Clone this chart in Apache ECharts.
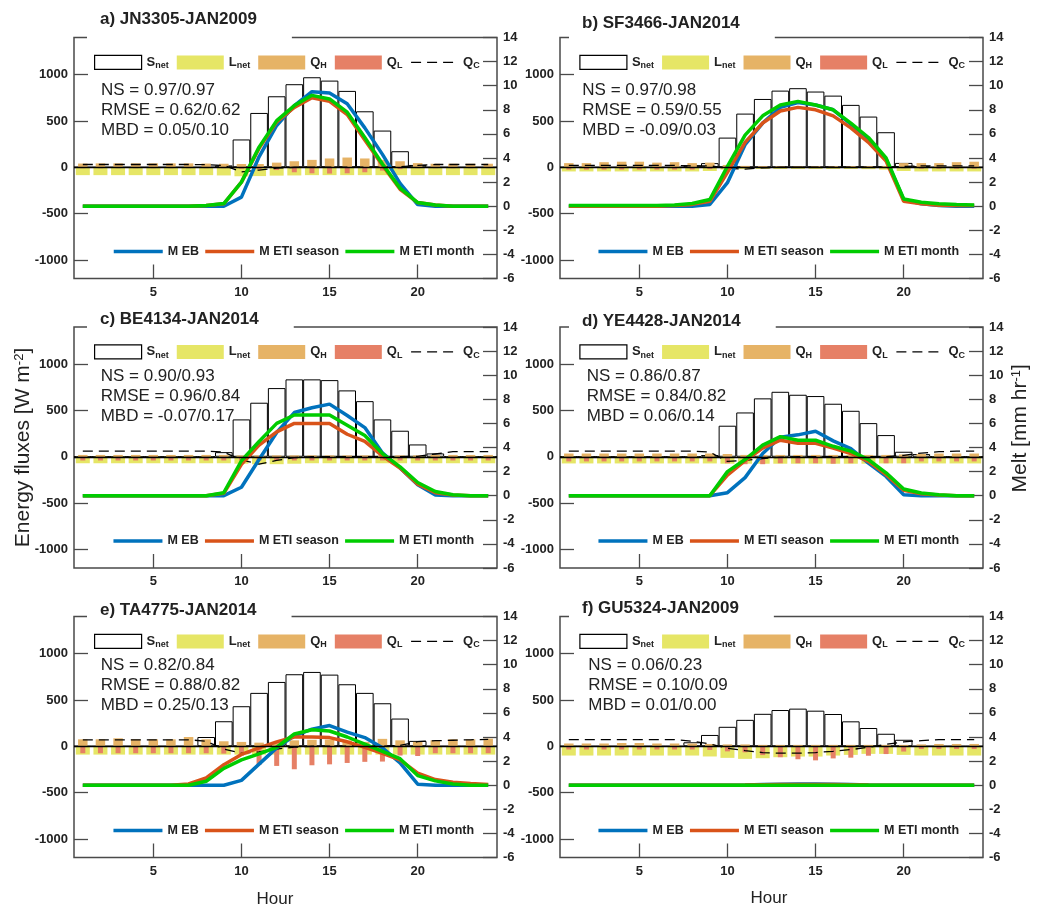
<!DOCTYPE html>
<html><head><meta charset="utf-8">
<script src="https://cdn.jsdelivr.net/npm/echarts@6/dist/echarts.min.js"></script>
<style>html,body{margin:0;padding:0;background:#fff}#c{width:1038px;height:909px}</style>
</head><body><div id="c"></div>
<script>
// ---------- DATA ----------
const hours = [1,2,3,4,5,6,7,8,9,10,11,12,13,14,15,16,17,18,19,20,21,22,23,24];
const xTicks = [5,10,15,20];
const leftTicks = [-1000,-500,0,500,1000];
const topLegendNames = ['S_net','L_net','Q_H','Q_L','Q_C'];
const meltNames = ['M EB','M ETI season','M ETI month'];

// a) JN3305-JAN2009
const titleA = 'a) JN3305-JAN2009';
const statsA = ['NS = 0.97/0.97','RMSE = 0.62/0.62','MBD = 0.05/0.10'];
const snetA = [0,0,0,0,0,0,0,0,20,300,586,766,896,971,935,824,604,396,173,25,0,0,0,0];
const lnetA = [-85,-85,-85,-85,-85,-85,-85,-85,-88,-97,-95,-90,-88,-85,-85,-85,-85,-85,-85,-85,-85,-85,-85,-85];
const qhA   = [40,42,42,42,42,42,42,40,38,35,35,50,65,80,95,105,95,80,65,45,38,38,38,38];
const qlA   = [-10,-10,-10,-10,-10,-10,-10,-10,-10,-15,-20,-30,-54,-65,-68,-65,-54,-36,-20,-10,-10,-10,-10,-10];
const qcA   = [30,30,30,30,30,30,30,28,20,-50,-30,-10,0,0,0,0,0,0,5,20,30,30,30,30];
const mebA  = [0,0,0,0,0,0,0,0,0,0.75,4.1,6.7,8.35,9.5,9.4,8.5,6.5,4.3,1.9,0.14,0,0,0,0];
const metisA= [0,0,0,0,0,0,0,0.05,0.2,2.0,4.8,7.0,8.2,9.0,8.7,7.6,5.5,3.4,1.4,0.3,0.1,0,0,0];
const metimA= [0,0,0,0,0,0,0,0.05,0.22,2.0,4.9,7.1,8.35,9.2,8.9,7.8,5.7,3.5,1.5,0.3,0.1,0,0,0];

// b) SF3466-JAN2014
const titleB = 'b) SF3466-JAN2014';
const statsB = ['NS = 0.97/0.98','RMSE = 0.59/0.55','MBD = -0.09/0.03'];
const snetB = [0,0,0,0,0,0,0,20,45,320,579,737,827,853,817,773,673,547,378,47,10,0,0,0];
const lnetB = [-45,-45,-45,-45,-45,-45,-45,-45,-40,-25,-20,-18,-18,-18,-18,-18,-18,-20,-25,-40,-45,-45,-45,-45];
const qhB   = [45,45,55,60,60,50,55,45,50,25,15,12,12,12,12,12,12,12,15,45,45,45,55,60];
const qlB   = [-25,-25,-25,-25,-25,-25,-25,-25,-20,-10,-5,-5,-5,-5,-5,-5,-5,-5,-5,-10,-15,-15,-15,-15];
const qcB   = [20,20,20,20,20,20,20,15,15,-10,-20,-5,0,0,0,0,0,0,0,10,15,15,15,15];
const mebB  = [0,0,0,0,0,0,0,0,0.14,1.95,5.1,6.9,8.2,8.6,8.4,8.0,6.8,5.6,3.9,0.55,0.2,0.05,0,0];
const metisB= [0,0,0,0,0,0,0.05,0.15,0.4,2.8,5.3,6.9,7.9,8.2,8.0,7.5,6.5,5.3,3.75,0.4,0.2,0.08,0.05,0.05];
const metimB= [0.05,0.05,0.05,0.05,0.05,0.05,0.1,0.22,0.55,3.3,5.9,7.5,8.4,8.7,8.4,8.0,6.9,5.7,4.0,0.6,0.33,0.2,0.14,0.1];

// c) BE4134-JAN2014
const titleC = 'c) BE4134-JAN2014';
const statsC = ['NS = 0.90/0.93','RMSE = 0.96/0.84','MBD = -0.07/0.17'];
const snetC = [0,0,0,0,0,0,0,0,50,403,583,741,835,835,827,716,600,403,281,133,36,0,0,0];
const lnetC = [-70,-70,-70,-70,-70,-70,-70,-70,-70,-75,-80,-80,-75,-70,-70,-70,-70,-70,-70,-70,-70,-70,-70,-70];
const qhC   = [20,20,20,20,20,20,20,20,20,15,15,15,15,15,15,15,15,15,15,15,20,20,20,20];
const qlC   = [-40,-40,-40,-40,-40,-40,-40,-40,-40,-40,-40,-40,-40,-40,-40,-40,-40,-40,-40,-40,-40,-40,-40,-40];
const qcC   = [60,60,60,60,60,60,60,60,50,-35,-80,-40,-10,0,0,0,0,0,0,5,30,55,55,55];
const mebC  = [0,0,0,0,0,0,0,0,0,0.7,3.0,5.25,6.9,7.3,7.6,6.65,5.65,3.55,2.3,0.9,0.05,0,0,0];
const metisC= [0,0,0,0,0,0,0,0,0.2,2.6,4.2,5.3,6.0,6.0,6.0,5.1,4.5,3.3,2.3,0.95,0.25,0.05,0,0];
const metimC= [0,0,0,0,0,0,0,0,0.25,2.9,4.5,6.0,6.7,6.7,6.7,5.85,5.0,3.5,2.4,1.1,0.35,0.08,0,0];

// d) YE4428-JAN2014
const titleD = 'd) YE4428-JAN2014';
const statsD = ['NS = 0.86/0.87','RMSE = 0.84/0.82','MBD = 0.06/0.14'];
const snetD = [0,0,0,0,0,0,0,0,18,335,478,630,701,669,655,572,496,363,234,54,29,0,0,0];
const lnetD = [-72,-72,-72,-72,-72,-72,-72,-72,-72,-75,-75,-75,-75,-75,-75,-75,-75,-75,-72,-72,-72,-72,-72,-72];
const qhD   = [35,35,35,35,35,35,35,35,35,30,20,20,20,20,20,20,20,20,20,25,30,35,35,35];
const qlD   = [-50,-50,-50,-50,-50,-50,-50,-50,-50,-70,-80,-80,-70,-70,-70,-75,-70,-70,-70,-70,-50,-50,-50,-50];
const qcD   = [60,60,60,60,60,60,60,60,50,-50,-40,-20,-5,0,0,0,0,0,0,15,40,55,60,60];
const mebD  = [0,0,0,0,0,0,0,0,0,0.25,1.5,3.5,4.85,5.05,5.35,4.55,3.9,2.7,1.6,0.08,0,0,0,0];
const metisD= [0,0,0,0,0,0,0,0,0,1.7,2.9,3.95,4.6,4.35,4.35,3.95,3.5,2.85,1.75,0.45,0.16,0.05,0,0];
const metimD= [0,0,0,0,0,0,0,0,0,2.0,3.0,4.2,4.9,4.6,4.6,4.1,3.7,3.0,1.9,0.55,0.22,0.08,0,0];

// e) TA4775-JAN2014
const titleE = 'e) TA4775-JAN2014';
const statsE = ['NS = 0.82/0.84','RMSE = 0.88/0.82','MBD = 0.25/0.13'];
const snetE = [0,0,0,0,0,0,0,100,270,432,576,694,777,802,773,669,576,464,299,58,0,0,0,0];
const lnetE = [-90,-90,-90,-90,-90,-90,-90,-90,-90,-90,-90,-90,-90,-90,-90,-90,-90,-90,-90,-90,-90,-90,-90,-90];
const qhE   = [75,75,86,75,75,75,100,75,54,47,39,45,64,70,72,64,47,80,64,47,64,75,75,82];
const qlE   = [-75,-75,-75,-75,-75,-75,-75,-75,-79,-100,-200,-212,-248,-205,-195,-180,-168,-165,-100,-105,-75,-75,-75,-75];
const qcE   = [70,70,70,70,70,70,70,55,-30,-75,-60,-30,-10,0,0,0,0,0,10,50,60,65,70,75];
const mebE  = [0,0,0,0,0,0,0,0,0,0.4,1.75,3.1,4.1,4.65,4.95,4.4,3.95,3.1,1.85,0.08,0,0,0,0];
const metisE= [0,0,0,0,0,0,0.1,0.6,1.7,2.55,3.1,3.6,4.0,4.0,3.95,3.6,3.15,2.65,2.1,1.0,0.47,0.25,0.14,0.05];
const metimE= [0,0,0,0,0,0,0,0.33,1.4,2.1,2.6,3.15,4.25,4.6,4.5,4.0,3.4,2.8,2.2,0.8,0.36,0.1,0,0];

// f) GU5324-JAN2009
const titleF = 'f) GU5324-JAN2009';
const statsF = ['NS = 0.06/0.23','RMSE = 0.10/0.09','MBD = 0.01/0.00'];
const snetF = [0,0,0,0,0,0,0,43,122,210,285,350,391,406,384,348,269,197,135,70,0,0,0,0];
const lnetF = [-100,-100,-100,-100,-100,-100,-100,-100,-110,-125,-136,-129,-118,-111,-111,-100,-93,-82,-82,-93,-100,-100,-100,-100];
const qhF   = [30,30,30,35,35,30,30,30,25,20,20,15,15,15,15,15,15,15,15,15,20,25,25,25];
const qlF   = [-35,-35,-35,-35,-35,-35,-35,-35,-40,-55,-65,-95,-118,-140,-152,-131,-123,-102,-84,-57,-30,-30,-30,-30];
const qcF   = [72,72,72,72,72,72,72,54,25,-21,-46,-68,-75,-75,-68,-54,-36,-11,21,47,61,72,72,72];
const mebF  = [0,0,0,0,0,0,0,0,0,0,0.02,0.05,0.08,0.1,0.1,0.08,0.05,0.02,0,0,0,0,0,0];
const metisF= [0,0,0,0,0,0,0,0,0,0,0.01,0.03,0.05,0.06,0.06,0.05,0.03,0.01,0,0,0,0,0,0];
const metimF= [0,0,0,0,0,0,0,0,0,0,0,0,0,0,0,0,0,0,0,0,0,0,0,0];

// ---------- BUILD ----------
const panels = [
  {title:titleA, stats:statsA, snet:snetA, lnet:lnetA, qh:qhA, ql:qlA, qc:qcA, meb:mebA, metis:metisA, metim:metimA},
  {title:titleB, stats:statsB, snet:snetB, lnet:lnetB, qh:qhB, ql:qlB, qc:qcB, meb:mebB, metis:metisB, metim:metimB},
  {title:titleC, stats:statsC, snet:snetC, lnet:lnetC, qh:qhC, ql:qlC, qc:qcC, meb:mebC, metis:metisC, metim:metimC},
  {title:titleD, stats:statsD, snet:snetD, lnet:lnetD, qh:qhD, ql:qlD, qc:qcD, meb:mebD, metis:metisD, metim:metimD},
  {title:titleE, stats:statsE, snet:snetE, lnet:lnetE, qh:qhE, ql:qlE, qc:qcE, meb:mebE, metis:metisE, metim:metimE},
  {title:titleF, stats:statsF, snet:snetF, lnet:lnetF, qh:qhF, ql:qlF, qc:qcF, meb:mebF, metis:metisF, metim:metimF}
];
// layout (pixels)
const GW = 423, GH = 241;
const YMIN = -1200, YMAX = 1400;
const layout = [
  {left:74,  top:37.5, tx:100, ty:19,    sx:101,   sy:90,    lg1:94,    lg2:112},
  {left:560, top:37.5, tx:582, ty:23,    sx:582.3, sy:90,    lg1:579.3, lg2:596.7},
  {left:74,  top:327,  tx:100, ty:319,   sx:100.7, sy:376.7, lg1:94,    lg2:111.7},
  {left:560, top:327,  tx:582, ty:321.7, sx:586.7, sy:376.7, lg1:579.3, lg2:596.7},
  {left:74,  top:616.5,tx:100, ty:610,   sx:100.7, sy:665,   lg1:94,    lg2:111.7},
  {left:560, top:616.5,tx:582, ty:608.3, sx:588.3, sy:665,   lg1:579.3, lg2:596.7}
];
const AX = '#4a4a4a', TXT = '#222';
const FONT = '"Liberation Sans", Arial, Helvetica, sans-serif';
const COL = {lnet:'#e6e666', qh:'#e6b366', ql:'#e68066', eb:'#0072bd', season:'#d95319', month:'#00cc00'};
const BW = GW / 24;
const TICK_LEN = 14;
const tickTopVal = YMIN + (YMAX - YMIN) * TICK_LEN / GH; // 14 px above the bottom edge
const pairs = arr => hours.map((h, i) => [h, arr[i]]);
const plain = v => String(v);

const option = {
  animation:false, backgroundColor:'#fff',
  textStyle:{fontFamily:FONT},
  grid:[], xAxis:[], yAxis:[], series:[], title:[], legend:[], graphic:[]
};
const tickStyle = {color:AX, width:1.3};
const labelStyle = {fontSize:13, fontWeight:'bold', color:TXT, fontFamily:FONT, formatter:plain};
const NX = 4; // x axes per grid

panels.forEach((p, g) => {
  const L = layout[g];
  option.grid.push({left:L.left, top:L.top, width:GW, height:GH, show:true,
    borderColor:AX, borderWidth:1.5, backgroundColor:'rgba(0,0,0,0)'});
  // x axis 0: labels (and main series), 1..3: hidden axes for separate bar layouts
  option.xAxis.push({gridIndex:g, type:'value', min:0.5, max:24.5, position:'bottom',
    axisLine:{show:false, onZero:false}, splitLine:{show:false}, axisTick:{show:false},
    axisLabel:Object.assign({show:true, customValues:xTicks, margin:7}, labelStyle)});
  for (let k = 1; k <= 3; k++) {
    option.xAxis.push({gridIndex:g, type:'value', min:0.5, max:24.5, show:false, position:'bottom',
      axisLine:{show:false, onZero:false}, axisTick:{show:false}, axisLabel:{show:false}});
  }
  option.yAxis.push({gridIndex:g, type:'value', min:YMIN, max:YMAX, position:'left',
    axisLine:{show:false, onZero:false}, splitLine:{show:false},
    axisTick:{show:true, inside:true, length:TICK_LEN, customValues:leftTicks, lineStyle:tickStyle},
    axisLabel:Object.assign({show:true, customValues:leftTicks, margin:6}, labelStyle)});
  option.yAxis.push({gridIndex:g, type:'value', min:-6, max:14, interval:2, position:'right',
    axisLine:{show:false, onZero:false}, splitLine:{show:false},
    axisTick:{show:true, inside:true, length:TICK_LEN, lineStyle:tickStyle},
    axisLabel:Object.assign({show:true, margin:6, showMinLabel:true, showMaxLabel:true}, labelStyle)});

  const xb = NX * g, yb = 2 * g;
  option.series.push({name:'S_net', type:'bar', xAxisIndex:xb, yAxisIndex:yb, data:pairs(p.snet),
    barWidth:BW, itemStyle:{color:'#fff', borderColor:'#000', borderWidth:1}});
  option.series.push({name:'L_net', type:'bar', xAxisIndex:xb+1, yAxisIndex:yb, data:pairs(p.lnet),
    barWidth:14, itemStyle:{color:COL.lnet}});
  option.series.push({name:'Q_H', type:'bar', xAxisIndex:xb+2, yAxisIndex:yb, data:pairs(p.qh),
    barWidth:9.5, itemStyle:{color:COL.qh}});
  option.series.push({name:'Q_L', type:'bar', xAxisIndex:xb+3, yAxisIndex:yb, data:pairs(p.ql),
    barWidth:5, itemStyle:{color:COL.ql}});
  // Q_C line; its markLine carries the zero baseline and the inward hour ticks of the bottom axis
  const tickMarks = xTicks.map(t => [
    {coord:[t, YMIN], lineStyle:{color:AX, width:1.3, type:'solid'}},
    {coord:[t, tickTopVal]}
  ]);
  option.series.push({name:'Q_C', type:'line', xAxisIndex:xb, yAxisIndex:yb, data:pairs(p.qc),
    symbol:'none', itemStyle:{color:'#000'}, lineStyle:{color:'#000', width:1.3, type:[10,6]},
    markLine:{silent:true, symbol:['none','none'], label:{show:false},
      lineStyle:{color:'#000', width:1.3, type:'solid'},
      data:[{yAxis:0}].concat(tickMarks)}});
  [['M EB', p.meb, COL.eb], ['M ETI season', p.metis, COL.season], ['M ETI month', p.metim, COL.month]]
    .forEach(([n, arr, c]) => {
      option.series.push({name:n, type:'line', xAxisIndex:xb, yAxisIndex:yb+1, data:pairs(arr),
        symbol:'none', itemStyle:{color:c}, lineStyle:{color:c, width:3.5}});
    });

  // title with white box breaking the top border
  const tTop = L.ty - 9;
  const padB = Math.max(2, L.top + 2 - (tTop + 18));
  option.title.push({text:p.title, left:L.tx - 13, top:tTop - 3, padding:[3, 35, padB, 13],
    backgroundColor:'#fff',
    textStyle:{fontSize:17, fontWeight:'bold', color:TXT, lineHeight:18, fontFamily:FONT}});

  // legends
  option.legend.push({left:L.lg1, top:L.top + 25.3 - 8, padding:0, itemWidth:47, itemHeight:14,
    itemGap:8, selectedMode:false,
    data:topLegendNames.map(n => n === 'Q_C' ? {name:n, itemStyle:{opacity:0}}
      : {name:n, icon:'rect', itemStyle:{borderWidth: n === 'S_net' ? 1.2 : 0}}),
    formatter: n => { const s = n.split('_'); return '{m|' + s[0] + '}{s|' + s[1] + '}'; },
    lineStyle:{width:'inherit'},
    textStyle:{color:TXT, rich:{
      m:{fontSize:13, fontWeight:'bold', color:TXT, fontFamily:FONT},
      s:{fontSize:9, fontWeight:'bold', color:TXT, fontFamily:FONT, padding:[7,0,0,0]}}}});
  option.legend.push({left:L.lg2, top:L.top + 215 - 7.5, padding:0, itemWidth:49, itemHeight:14,
    itemGap:4.5, selectedMode:false,
    data:meltNames.map(n => ({name:n, itemStyle:{opacity:0}})),
    lineStyle:{width:'inherit'},
    textStyle:{fontSize:12.5, fontWeight:'bold', color:TXT, fontFamily:FONT}});

  // statistics text
  option.graphic.push({type:'text', x:L.sx, y:L.sy - 10, z:100, silent:true,
    style:{text:p.stats.join('\n'), fontSize:17, fontFamily:FONT, lineHeight:20, fill:TXT,
      align:'left', verticalAlign:'top'}});
});

// axis names
option.graphic.push({type:'text', x:23.5, y:447.5, rotation:Math.PI/2, z:100, silent:true,
  style:{text:'{n|Energy fluxes [W m}{s|-2}{n|]}', align:'center', verticalAlign:'middle',
    rich:{n:{fontSize:21, fontFamily:FONT, fill:TXT, color:TXT},
          s:{fontSize:13, fontFamily:FONT, fill:TXT, color:TXT, padding:[0,0,9,0]}}}});
option.graphic.push({type:'text', x:1020.7, y:428.3, rotation:Math.PI/2, z:100, silent:true,
  style:{text:'{n|Melt [mm hr}{s|-1}{n|]}', align:'center', verticalAlign:'middle',
    rich:{n:{fontSize:21, fontFamily:FONT, fill:TXT, color:TXT},
          s:{fontSize:13, fontFamily:FONT, fill:TXT, color:TXT, padding:[0,0,9,0]}}}});
option.graphic.push({type:'text', x:275, y:899, z:100, silent:true,
  style:{text:'Hour', fontSize:17, fontFamily:FONT, fill:TXT, align:'center', verticalAlign:'middle'}});
option.graphic.push({type:'text', x:769, y:898, z:100, silent:true,
  style:{text:'Hour', fontSize:17, fontFamily:FONT, fill:TXT, align:'center', verticalAlign:'middle'}});

const chart = echarts.init(document.getElementById('c'), null, {renderer:'canvas'});
chart.setOption(option);
</script>
</body></html>
